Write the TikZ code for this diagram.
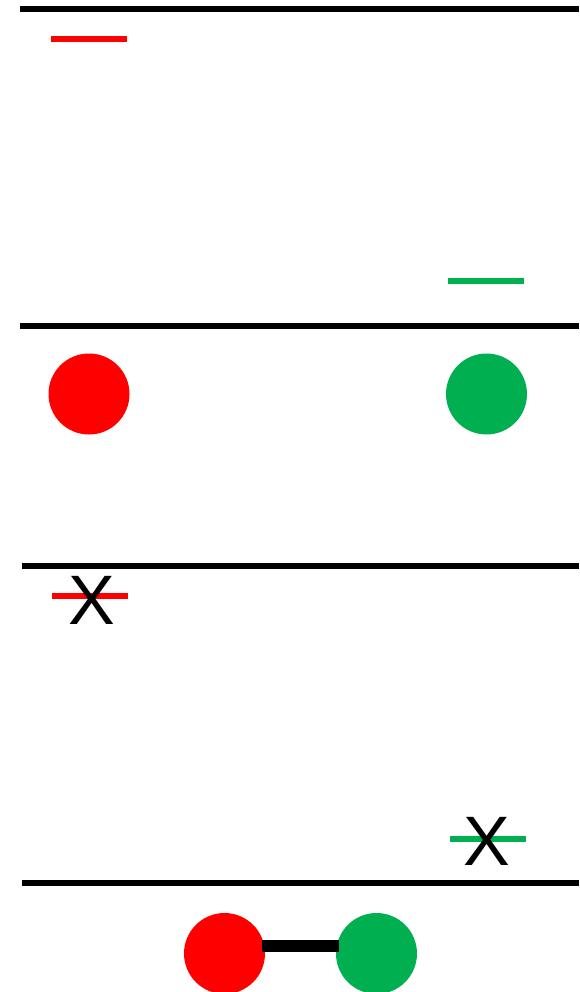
\documentclass[tikz,border=0pt]{standalone}
\usepackage{fontspec}
\setmainfont{Liberation Sans}
\usepackage{tikz}
\usetikzlibrary{positioning}
\definecolor{siteRed}{RGB}{255,0,0}
\definecolor{siteGreen}{RGB}{0,176,80}

\begin{document}
\begin{tikzpicture}[x=1pt, y=-1pt,
  rule/.style={line width=6pt, black},
  tick/.style={line width=6pt},
  dot/.style={circle, minimum size=81pt, inner sep=0pt, draw=none},
  cross/.style={inner sep=0pt, font=\fontsize{70}{70}\selectfont},
  bond/.style={line width=12pt, black}]
  % page frame: 579 x 992
  \clip (0,0) rectangle (579,992);
  \def\xL{89}
  \def\xR{486.5}
  % panel separators
  \draw[rule] (20,9) -- (579,9);
  \draw[rule] (20,326) -- (579,326);
  \draw[rule] (22,566) -- (579,566);
  \draw[rule] (22,883) -- (579,883);
  % panel 1: two short levels
  \draw[tick, siteRed] (51,39) -- (127,39);
  \draw[tick, siteGreen] (448,281) -- (524,281);
  % panel 2: two separate sites
  \node[dot, fill=siteRed] (redA) at (\xL,394) {};
  \node[dot, fill=siteGreen] (greenA) at (\xR,394) {};
  % panel 3: crossed-out levels
  \draw[tick, siteRed] (52,596) -- (128,596);
  \node[cross] (crossA) at (91.5,600) {X};
  \draw[tick, siteGreen] (450,839) -- (526,839);
  \node[cross] (crossB) at (486.5,841) {X};
  % panel 4: bonded pair (bond sits a bit above the centres)
  \node[dot, fill=siteRed] (redB) at (224.5,953.5) {};
  \node[dot, fill=siteGreen] (greenB) at (376.5,953.5) {};
  \draw[bond] ([shift={(-3pt,7.5pt)}]redB.east) -- ([shift={(3pt,7.5pt)}]greenB.west);
\end{tikzpicture}
\end{document}
